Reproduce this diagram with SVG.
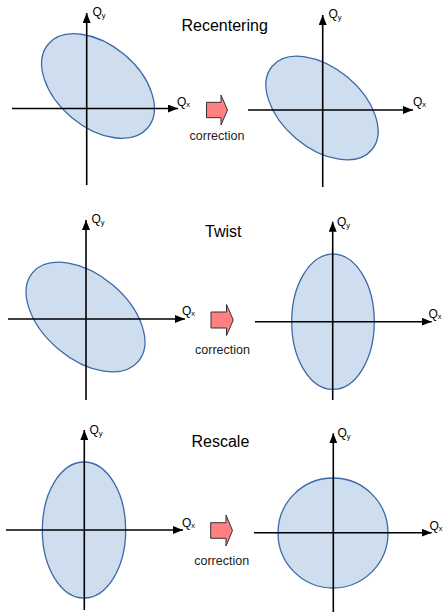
<svg xmlns="http://www.w3.org/2000/svg" width="443" height="615" viewBox="0 0 443 615">
<defs>
<style>
.ax{stroke:#000;stroke-width:1.6;fill:none}
.el{fill:#cfdeee;stroke:#3c69a8;stroke-width:1.3}
.q{font-family:"Liberation Sans",Arial,sans-serif;font-size:12px;fill:#000}
.s{font-size:7.5px}
.t{font-family:"Liberation Sans",Arial,sans-serif;font-size:16px;fill:#000}
.c{font-family:"Liberation Sans",Arial,sans-serif;font-size:12.5px;fill:#222;text-anchor:middle}
.ar{fill:#ff8080;stroke:#333;stroke-width:1}
</style>
<marker id="ah" viewBox="0 0 10 8" refX="10" refY="4" markerWidth="10" markerHeight="8" markerUnits="userSpaceOnUse" orient="auto">
<path d="M0,0 L10,4 L0,8 z" fill="#000"/>
</marker>
</defs>
<rect width="443" height="615" fill="#fff"/>

<g id="titles">
<text class="t" x="181.5" y="31">Recentering</text>
<text class="t" x="205" y="237">Twist</text>
<text class="t" x="191.5" y="447">Rescale</text>
</g>

<g id="ellipses">
<ellipse class="el" cx="98" cy="86" rx="65" ry="41" transform="rotate(40 98 86)"/>
<ellipse class="el" cx="322" cy="108" rx="65" ry="40" transform="rotate(40 322 108)"/>
<ellipse class="el" cx="85.5" cy="317" rx="69" ry="42" transform="rotate(40 85.5 317)"/>
<ellipse class="el" cx="333" cy="321.7" rx="41.3" ry="67.7"/>
<ellipse class="el" cx="84" cy="530" rx="41.7" ry="68"/>
<circle class="el" cx="333" cy="533" r="55"/>
</g>

<g id="connectors">
<line class="ax" x1="86.7" y1="185" x2="86.7" y2="13" marker-end="url(#ah)"/>
<line class="ax" x1="12" y1="108.5" x2="178" y2="108.5" marker-end="url(#ah)"/>
<line class="ax" x1="322.7" y1="187" x2="322.7" y2="15" marker-end="url(#ah)"/>
<line class="ax" x1="248" y1="110" x2="413" y2="110" marker-end="url(#ah)"/>
<line class="ax" x1="86" y1="400" x2="86" y2="220" marker-end="url(#ah)"/>
<line class="ax" x1="8" y1="319" x2="185" y2="319" marker-end="url(#ah)"/>
<line class="ax" x1="332.7" y1="400" x2="332.7" y2="221.7" marker-end="url(#ah)"/>
<line class="ax" x1="255" y1="321.7" x2="431.7" y2="321.7" marker-end="url(#ah)"/>
<line class="ax" x1="84.3" y1="610" x2="84.3" y2="430" marker-end="url(#ah)"/>
<line class="ax" x1="6" y1="530" x2="183" y2="530" marker-end="url(#ah)"/>
<line class="ax" x1="333.3" y1="612" x2="333.3" y2="433.3" marker-end="url(#ah)"/>
<line class="ax" x1="254" y1="532.7" x2="431.7" y2="532.7" marker-end="url(#ah)"/>
</g>

<g id="labels">
<text class="q" x="92.5" y="15.5">Q<tspan class="s" dy="2">y</tspan></text>
<text class="q" x="177" y="105.5">Q<tspan class="s" dy="1">x</tspan></text>
<text class="q" x="328.5" y="17.5">Q<tspan class="s" dy="2">y</tspan></text>
<text class="q" x="413" y="106">Q<tspan class="s" dy="1">x</tspan></text>
<text class="q" x="91.5" y="223">Q<tspan class="s" dy="2">y</tspan></text>
<text class="q" x="182" y="315">Q<tspan class="s" dy="1">x</tspan></text>
<text class="q" x="337" y="225.5">Q<tspan class="s" dy="2">y</tspan></text>
<text class="q" x="428.5" y="318">Q<tspan class="s" dy="1">x</tspan></text>
<text class="q" x="89.5" y="434">Q<tspan class="s" dy="2">y</tspan></text>
<text class="q" x="182" y="526.5">Q<tspan class="s" dy="1">x</tspan></text>
<text class="q" x="337.5" y="437">Q<tspan class="s" dy="2">y</tspan></text>
<text class="q" x="429.5" y="529.5">Q<tspan class="s" dy="1">x</tspan></text>
</g>

<g id="correction1">
<path class="ar" d="M206.5,102.3 H221 V95 L227.5,110 L221,125 V117.7 H206.5 Z"/>
<text class="c" x="217" y="140">correction</text>
</g>
<g id="correction2">
<path class="ar" d="M211,312 H226.5 V304.5 L233.3,320 L226.5,335.5 V328 H211 Z"/>
<text class="c" x="222.5" y="353.5">correction</text>
</g>
<g id="correction3">
<path class="ar" d="M210.7,522.7 H226 V515 L232.5,530.5 L226,546 V538.3 H210.7 Z"/>
<text class="c" x="221.7" y="565">correction</text>
</g>
</svg>
